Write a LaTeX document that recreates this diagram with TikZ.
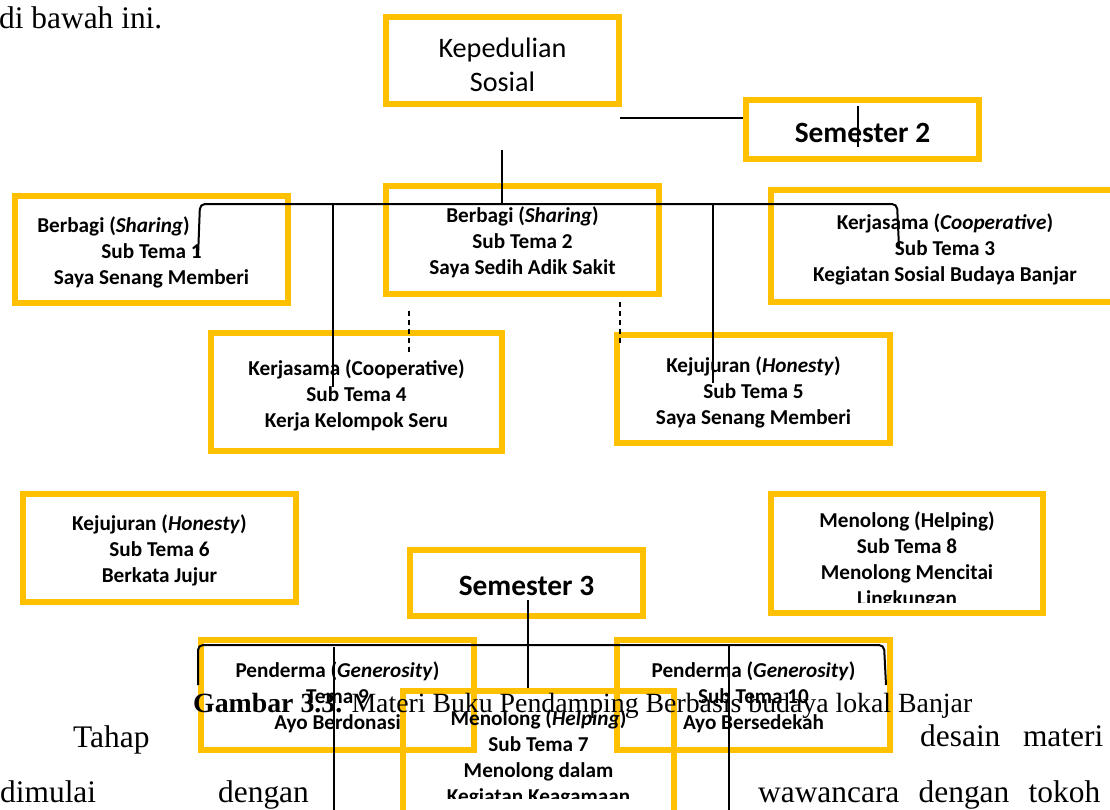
\documentclass[tikz,border=0pt]{standalone}
\usepackage{fontspec}
\setmainfont{Liberation Serif}
\newfontfamily\cali{Carlito}
\usepackage{tikz}
\definecolor{boxyel}{HTML}{FFC000}
\newcommand\tp[1][22pt]{\rule{0pt}{#1}}
\tikzset{
  bx/.style={draw=boxyel,line width=6pt,inner sep=0pt,align=center,font=\cali\bfseries\fontsize{21.2}{26}\selectfont},
  tt/.style={align=center,inner sep=0pt,font=\cali\bfseries\fontsize{21.2}{26}\selectfont},
  big/.style={font=\cali\bfseries\fontsize{29.4}{34}\selectfont,execute at begin node={\rule{0pt}{26pt}}},
  ln/.style={line width=2pt,black},
  dl/.style={line width=1.6pt,dash pattern=on 5pt off 4pt},
  body/.style={anchor=base west,inner sep=0pt,font=\fontsize{31.4}{36}\selectfont}
}

\begin{document}
\begin{tikzpicture}[x=1pt,y=-1pt]
\useasboundingbox (0,0) rectangle (1110,809);
\clip (0,0) rectangle (1110,809);
% kotak-kotak tema
\node[bx,minimum width=233,minimum height=87,font=\cali\fontsize{28.2}{34}\selectfont] (kep) at (502.5,60.5) {\tp[29pt]Kepedulian\\Sosial};
\node[bx,big,minimum width=233,minimum height=59] (sem2) at (862.5,129.5) {Semester 2};
\node[bx,minimum width=273,minimum height=107] (sub1) at (151.5,249.5) {\tp Berbagi (\textit{Sharing})\hspace*{76pt}\\Sub Tema 1\\Saya Senang Memberi};
\node[bx,minimum width=273,minimum height=108] (sub2) at (522.5,240) {\tp[20pt]Berbagi (\textit{Sharing})\\Sub Tema 2\\Saya Sedih Adik Sakit};
\node[bx,minimum width=348,minimum height=112] (sub3) at (945,246) {\tp Kerjasama (\textit{Cooperative})\\Sub Tema 3\\Kegiatan Sosial Budaya Banjar};
\node[bx,minimum width=291,minimum height=118] (sub4) at (356.5,392) {\tp Kerjasama (Cooperative)\\Sub Tema 4\\Kerja Kelompok Seru};
\node[bx,minimum width=273,minimum height=108] (sub5) at (753.5,389) {\tp Kejujuran (\textit{Honesty})\\Sub Tema 5\\Saya Senang Memberi};
\node[bx,minimum width=273,minimum height=108] (sub6) at (159.5,548) {\tp[20pt]Kejujuran (\textit{Honesty})\\Sub Tema 6\\Berkata Jujur};
\node[bx,big,minimum width=233,minimum height=66] (sem3) at (526.5,583) {Semester 3};
\node[bx,minimum width=272,minimum height=119] (sub8) at (907,553.5) {};
\node[bx,minimum width=273,minimum height=110] (sub9) at (337.5,695) {\tp[20pt]Penderma (\textit{Generosity})\\Tema 9\\Ayo Berdonasi};
\node[bx,minimum width=273,minimum height=110] (sub10) at (753.5,695) {\tp[20pt]Penderma (\textit{Generosity})\\Sub Tema 10\\Ayo Bersedekah};
\node[bx,minimum width=271,minimum height=130] (sub7) at (538.5,756) {};
\begin{scope}
\clip (768,491) rectangle (1046,602);
\node[tt] (sub8t) at (907,560.5) {Menolong (Helping)\\Sub Tema 8\\Menolong Mencitai\\Lingkungan};
\end{scope}
\begin{scope}
\clip (400,688) rectangle (677,798);
\node[tt] (sub7t) at (538.5,758) {Menolong (\textit{Helping})\\Sub Tema 7\\Menolong dalam\\Kegiatan Keagamaan};
\end{scope}
% garis penghubung semester 2
\coordinate (k1) at (502,150);
\coordinate (bus1) at (502,204);
\coordinate (k2) at (620,118);
\coordinate (bus1l) at (198,257);
\coordinate (bus1r) at (899,247);
\coordinate (v4) at (333,387);
\coordinate (v5) at (713,383);
\draw[ln] (k1) -- (bus1);
\draw[ln] (k2) -- (k2 -| sem2.west);
\draw[ln] (858,106) -- (858,147);
\draw[ln,rounded corners=5pt] (bus1l) -- (200,204) -- (897,204) -- (bus1r);
\draw[ln] (bus1 -| v4) -- (v4);
\draw[ln] (bus1 -| v5) -- (v5);
\draw[dl] (409,311) -- (409,353);
\draw[dl] (620,302) -- (620,345);
% garis penghubung semester 3
\coordinate (s3) at (528,600);
\coordinate (bus2) at (528,645);
\coordinate (bus2l) at (198,685);
\coordinate (bus2r) at (886,685);
\draw[ln] (s3) -- (s3 |- sub7.north);
\draw[ln,rounded corners=5pt] (bus2l) -- (198,645) -- (884,645) -- (bus2r);
\draw[ln] (334,647) -- (334,815);
\draw[ln] (729,645) -- (729,815);
% teks halaman
\node[body] (t1) at (-1,28) {di bawah ini.};
\node[body,font=\fontsize{27.8}{34}\selectfont] (cap) at (193,712) {\textbf{Gambar 3.3.} Materi Buku Pendamping Berbasis budaya lokal Banjar};
\node[body] (t2) at (73,747) {Tahap};
\node[body] (t3) at (920,746) {\makebox[183pt][s]{desain materi}};
\node[body] (t4) at (0,802) {dimulai};
\node[body] (t5) at (218,802) {dengan};
\node[body] (t6) at (758,802) {\makebox[342pt][s]{wawancara dengan tokoh}};
\end{tikzpicture}
\end{document}
